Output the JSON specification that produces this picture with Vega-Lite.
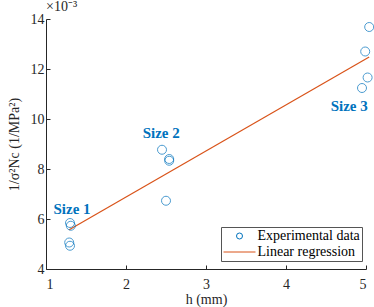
{
  "$schema": "https://vega.github.io/schema/vega-lite/v6.json",
  "width": 320,
  "height": 250,
  "autosize": {"type": "none"},
  "padding": {"left": 46, "top": 19, "right": 8, "bottom": 38},
  "background": "white",
  "config": {
    "view": {"stroke": null},
    "font": "Liberation Serif",
    "axis": {
      "labelFont": "Liberation Serif", "labelFontSize": 14, "labelColor": "#262626",
      "titleFont": "Liberation Serif", "titleFontSize": 14, "titleColor": "#262626", "titleFontWeight": "normal",
      "domainColor": "#262626", "tickColor": "#262626", "grid": false, "tickSize": -4
    }
  },
  "title": {
    "text": "×10⁻³", "anchor": "start", "frame": "group", "offset": -2,
    "font": "Liberation Serif", "fontSize": 14, "fontWeight": "normal", "color": "#262626", "dx": 0
  },
  "datasets": {
    "pts": [
      {"h": 1.30, "v": 5.84, "series": "Experimental data"},
      {"h": 1.31, "v": 5.73, "series": "Experimental data"},
      {"h": 1.29, "v": 5.06, "series": "Experimental data"},
      {"h": 1.30, "v": 4.93, "series": "Experimental data"},
      {"h": 2.45, "v": 8.77, "series": "Experimental data"},
      {"h": 2.54, "v": 8.40, "series": "Experimental data"},
      {"h": 2.54, "v": 8.33, "series": "Experimental data"},
      {"h": 2.50, "v": 6.73, "series": "Experimental data"},
      {"h": 5.04, "v": 13.68, "series": "Experimental data"},
      {"h": 4.99, "v": 12.70, "series": "Experimental data"},
      {"h": 5.02, "v": 11.66, "series": "Experimental data"},
      {"h": 4.95, "v": 11.24, "series": "Experimental data"}
    ],
    "fit": [
      {"h": 1.29, "v": 5.57, "series": "Linear regression"},
      {"h": 5.04, "v": 12.48, "series": "Linear regression"}
    ],
    "labels": [
      {"h": 1.325, "v": 6.41, "t": "Size 1"},
      {"h": 2.44, "v": 9.45, "t": "Size 2"},
      {"h": 4.79, "v": 10.53, "t": "Size 3"}
    ]
  },
  "layer": [
    {
      "data": {"name": "fit"},
      "mark": {"type": "line", "strokeWidth": 1.2},
      "encoding": {
        "x": {"field": "h", "type": "quantitative", "scale": {"domain": [1, 5]},
              "axis": {"values": [1, 2, 3, 4, 5], "format": "d", "title": "h (mm)", "titlePadding": 1, "labelPadding": 12}},
        "y": {"field": "v", "type": "quantitative", "scale": {"domain": [4, 14]},
              "axis": {"values": [4, 6, 8, 10, 12, 14], "format": "d", "title": "1/σ²Nc (1/MPa²)", "titleX": -32, "titleY": 125, "titleAngle": -90, "titleAlign": "center", "titleBaseline": "middle", "labelPadding": 6}},
        "color": {"field": "series", "type": "nominal",
                  "scale": {"domain": ["Experimental data", "Linear regression"], "range": ["#0072BD", "#D95319"]},
                  "legend": {
                    "title": null, "orient": "none", "legendX": 175, "legendY": 208,
                    "padding": 2, "strokeColor": "#555", "fillColor": "white",
                    "labelFont": "Liberation Serif", "labelFontSize": 14, "labelColor": "#000",
                    "symbolSize": 36, "symbolOffset": 9.5, "labelOffset": 11, "rowPadding": 2,
                    "symbolStrokeWidth": 1, "symbolFillColor": "transparent",
                    "encode": {"symbols": {"update": {
                      "size": {"signal": "datum.value === 'Linear regression' ? 1024 : 36"},
                      "shape": {"signal": "datum.value === 'Linear regression' ? 'stroke' : 'circle'"},
                      "fill": {"value": "transparent"}
                    }}}
                  }}
      }
    },
    {
      "data": {"name": "pts"},
      "mark": {"type": "point", "shape": "circle", "filled": false, "size": 81, "strokeWidth": 1},
      "encoding": {
        "x": {"field": "h", "type": "quantitative"},
        "y": {"field": "v", "type": "quantitative"},
        "color": {"field": "series", "type": "nominal"}
      }
    },
    {
      "data": {"name": "labels"},
      "mark": {"type": "text", "font": "Liberation Serif", "fontSize": 15, "fontWeight": "bold", "color": "#0072BD", "align": "center", "baseline": "middle"},
      "encoding": {
        "x": {"field": "h", "type": "quantitative"},
        "y": {"field": "v", "type": "quantitative"},
        "text": {"field": "t"}
      }
    }
  ]
}
